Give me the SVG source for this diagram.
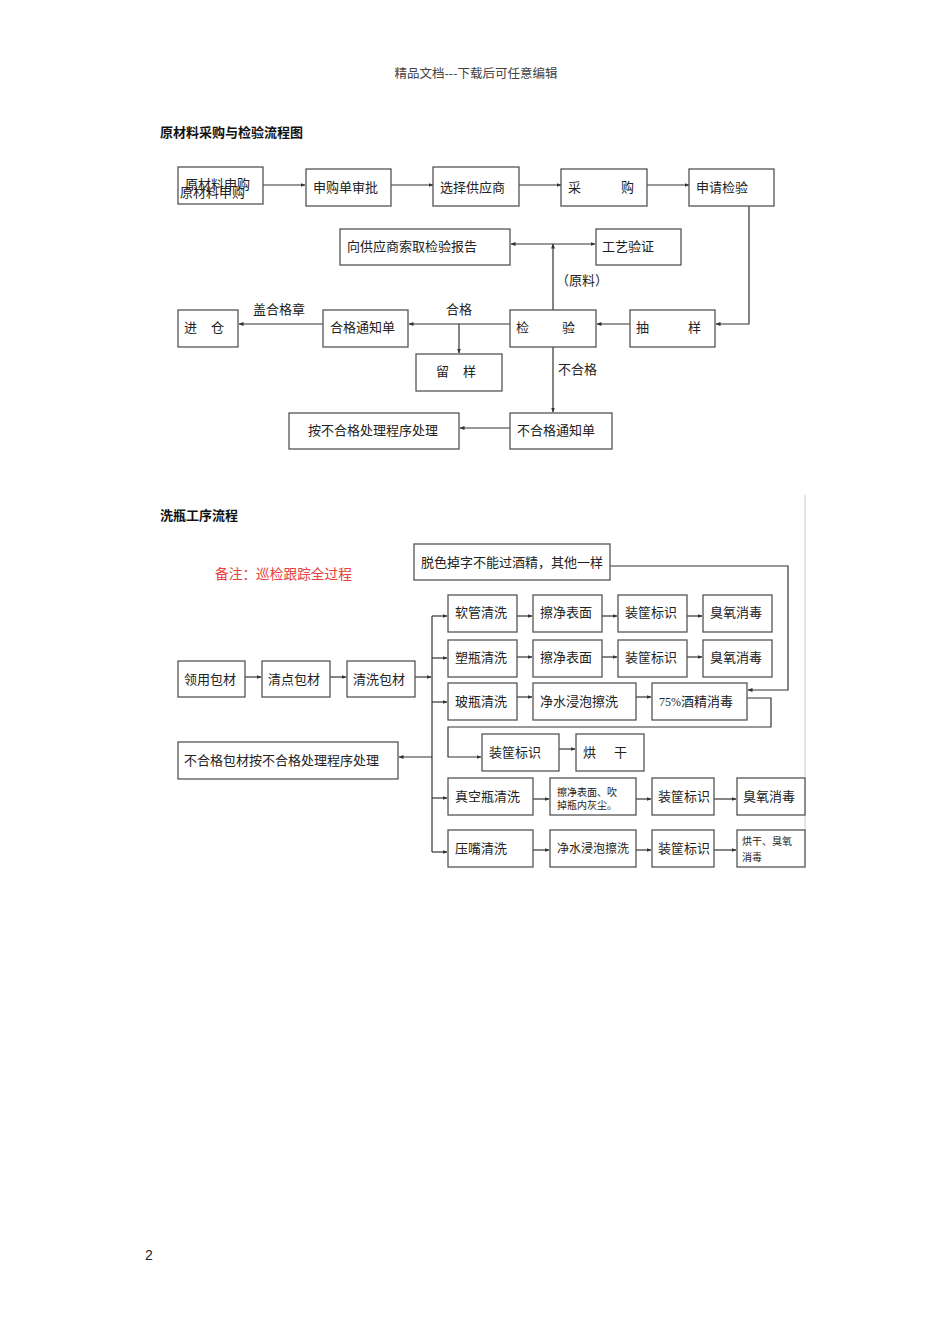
<svg xmlns="http://www.w3.org/2000/svg" width="950" height="1344" viewBox="0 0 950 1344">
<style>
text{font-family:"Noto Sans CJK SC","Liberation Sans",sans-serif;font-size:13px;fill:#222}
.box{fill:#fff;stroke:#555;stroke-width:1.3}
.ln{fill:none;stroke:#333;stroke-width:1.2}
.title{font-weight:bold;font-size:13px;fill:#111}
.small{font-size:10px}
</style>
<defs>
<marker id="ah" viewBox="0 0 10 10" refX="9" refY="5" markerWidth="5" markerHeight="5" orient="auto-start-reverse" markerUnits="userSpaceOnUse">
<path d="M0,1 L10,5 L0,9 Z" fill="#333"/>
</marker>
</defs>
<rect width="950" height="1344" fill="#fff"/>
<text x="476" y="78" text-anchor="middle" style="font-size:12.5px;fill:#444">精品文档---下载后可任意编辑</text>
<text class="title" x="160" y="137">原材料采购与检验流程图</text>

<g id="connectors1">
<line class="ln" x1="263" y1="185" x2="305" y2="185" marker-end="url(#ah)"/>
<line class="ln" x1="391" y1="185" x2="433" y2="185" marker-end="url(#ah)"/>
<line class="ln" x1="519" y1="185" x2="561" y2="185" marker-end="url(#ah)"/>
<line class="ln" x1="647" y1="185" x2="689" y2="185" marker-end="url(#ah)"/>
<polyline class="ln" points="749,206 749,324 716,324" marker-end="url(#ah)"/>
<line class="ln" x1="630" y1="324" x2="597" y2="324" marker-end="url(#ah)"/>
<line class="ln" x1="553" y1="310" x2="553" y2="244" marker-end="url(#ah)"/>
<line class="ln" x1="553" y1="244" x2="511" y2="244" marker-end="url(#ah)"/>
<line class="ln" x1="553" y1="244" x2="595" y2="244" marker-end="url(#ah)"/>
<line class="ln" x1="510" y1="324" x2="409" y2="324" marker-end="url(#ah)"/>
<line class="ln" x1="459" y1="324" x2="459" y2="353" marker-end="url(#ah)"/>
<line class="ln" x1="323" y1="324" x2="239" y2="324" marker-end="url(#ah)"/>
<line class="ln" x1="553" y1="347" x2="553" y2="412" marker-end="url(#ah)"/>
<line class="ln" x1="510" y1="428" x2="460" y2="428" marker-end="url(#ah)"/>
</g>
<g id="labels1">
<text x="556" y="285">（原料）</text>
<text x="446" y="314">合格</text>
<text x="253" y="314">盖合格章</text>
<text x="558" y="374">不合格</text>
</g>

<g id="n-yuancailiao"><rect class="box" x="178" y="167" width="85" height="37"/><text x="185" y="189">原材料申购</text><text x="180" y="197">原材料申购</text></g>
<g id="n-shenpi"><rect class="box" x="306" y="169" width="85" height="37"/><text x="313" y="192">申购单审批</text></g>
<g id="n-xuanze"><rect class="box" x="433" y="167" width="86" height="39"/><text x="440" y="192">选择供应商</text></g>
<g id="n-caigou"><rect class="box" x="561" y="169" width="86" height="37"/><text x="568" y="192">采</text><text x="621" y="192">购</text></g>
<g id="n-shenqing"><rect class="box" x="689" y="169" width="85" height="37"/><text x="696" y="192">申请检验</text></g>
<g id="n-baogao"><rect class="box" x="340" y="229" width="170" height="36"/><text x="347" y="251">向供应商索取检验报告</text></g>
<g id="n-gongyi"><rect class="box" x="596" y="229" width="85" height="36"/><text x="602" y="251">工艺验证</text></g>
<g id="n-chouyang"><rect class="box" x="630" y="310" width="85" height="37"/><text x="636" y="332">抽</text><text x="688" y="332">样</text></g>
<g id="n-jianyan"><rect class="box" x="510" y="310" width="86" height="37"/><text x="516" y="332">检</text><text x="562" y="332">验</text></g>
<g id="n-hege"><rect class="box" x="323" y="310" width="85" height="37"/><text x="330" y="332">合格通知单</text></g>
<g id="n-jincang"><rect class="box" x="178" y="310" width="60" height="37"/><text x="184" y="332">进</text><text x="211" y="332">仓</text></g>
<g id="n-liuyang"><rect class="box" x="416" y="354" width="86" height="37"/><text x="436" y="376">留</text><text x="463" y="376">样</text></g>
<g id="n-buhege"><rect class="box" x="510" y="413" width="102" height="36"/><text x="517" y="435">不合格通知单</text></g>
<g id="n-chuli"><rect class="box" x="289" y="413" width="170" height="36"/><text x="308" y="435">按不合格处理程序处理</text></g>

<text class="title" x="160" y="520">洗瓶工序流程</text>
<text x="215" y="579" style="fill:#e8403c;font-size:13.7px">备注：巡检跟踪全过程</text>
<line x1="805" y1="495" x2="805" y2="867" stroke="#ccc" stroke-width="1"/>

<g id="connectors2">
<polyline class="ln" points="610,566 788,566 788,690 748,690" marker-end="url(#ah)"/>
<line class="ln" x1="245" y1="677" x2="261" y2="677" marker-end="url(#ah)"/>
<line class="ln" x1="330" y1="677" x2="346" y2="677" marker-end="url(#ah)"/>
<line class="ln" x1="415" y1="677" x2="431" y2="677" marker-end="url(#ah)"/>
<line class="ln" x1="432" y1="616" x2="432" y2="852"/>
<line class="ln" x1="432" y1="616" x2="447" y2="616" marker-end="url(#ah)"/>
<line class="ln" x1="432" y1="658" x2="447" y2="658" marker-end="url(#ah)"/>
<line class="ln" x1="432" y1="702" x2="447" y2="702" marker-end="url(#ah)"/>
<line class="ln" x1="432" y1="798" x2="447" y2="798" marker-end="url(#ah)"/>
<line class="ln" x1="432" y1="852" x2="447" y2="852" marker-end="url(#ah)"/>
<line class="ln" x1="432" y1="757" x2="399" y2="757" marker-end="url(#ah)"/>
<line class="ln" x1="517" y1="616" x2="532" y2="616" marker-end="url(#ah)"/>
<line class="ln" x1="602" y1="616" x2="617" y2="616" marker-end="url(#ah)"/>
<line class="ln" x1="687" y1="616" x2="702" y2="616" marker-end="url(#ah)"/>
<line class="ln" x1="517" y1="657" x2="532" y2="657" marker-end="url(#ah)"/>
<line class="ln" x1="602" y1="657" x2="617" y2="657" marker-end="url(#ah)"/>
<line class="ln" x1="687" y1="657" x2="702" y2="657" marker-end="url(#ah)"/>
<line class="ln" x1="517" y1="697" x2="532" y2="697" marker-end="url(#ah)"/>
<line class="ln" x1="636" y1="697" x2="651" y2="697" marker-end="url(#ah)"/>
<polyline class="ln" points="747,698 771,698 771,727 448,727 448,757 481,757" marker-end="url(#ah)"/>
<line class="ln" x1="559" y1="749" x2="575" y2="749" marker-end="url(#ah)"/>
<line class="ln" x1="533" y1="799" x2="549" y2="799" marker-end="url(#ah)"/>
<line class="ln" x1="636" y1="799" x2="651" y2="799" marker-end="url(#ah)"/>
<line class="ln" x1="714" y1="799" x2="736" y2="799" marker-end="url(#ah)"/>
<line class="ln" x1="533" y1="850" x2="549" y2="850" marker-end="url(#ah)"/>
<line class="ln" x1="636" y1="850" x2="651" y2="850" marker-end="url(#ah)"/>
<line class="ln" x1="714" y1="850" x2="736" y2="850" marker-end="url(#ah)"/>
</g>

<g id="n-tuose"><rect class="box" x="414" y="544" width="196" height="36"/><text x="421" y="567">脱色掉字不能过酒精，其他一样</text></g>
<g id="n-lingyong"><rect class="box" x="178" y="661" width="67" height="36"/><text x="184" y="684">领用包材</text></g>
<g id="n-qingdian"><rect class="box" x="262" y="661" width="68" height="36"/><text x="268" y="684">清点包材</text></g>
<g id="n-qingxi"><rect class="box" x="347" y="661" width="68" height="36"/><text x="353" y="684">清洗包材</text></g>

<g id="n-r1a"><rect class="box" x="448" y="595" width="69" height="37"/><text x="455" y="617">软管清洗</text></g>
<g id="n-r1b"><rect class="box" x="533" y="595" width="69" height="37"/><text x="540" y="617">擦净表面</text></g>
<g id="n-r1c"><rect class="box" x="618" y="595" width="69" height="37"/><text x="625" y="617">装筐标识</text></g>
<g id="n-r1d"><rect class="box" x="703" y="595" width="69" height="37"/><text x="710" y="617">臭氧消毒</text></g>

<g id="n-r2a"><rect class="box" x="448" y="640" width="69" height="37"/><text x="455" y="662">塑瓶清洗</text></g>
<g id="n-r2b"><rect class="box" x="533" y="640" width="69" height="37"/><text x="540" y="662">擦净表面</text></g>
<g id="n-r2c"><rect class="box" x="618" y="640" width="69" height="37"/><text x="625" y="662">装筐标识</text></g>
<g id="n-r2d"><rect class="box" x="703" y="640" width="69" height="37"/><text x="710" y="662">臭氧消毒</text></g>

<g id="n-r3a"><rect class="box" x="448" y="683" width="69" height="37"/><text x="455" y="706">玻瓶清洗</text></g>
<g id="n-r3b"><rect class="box" x="533" y="683" width="103" height="37"/><text x="540" y="706">净水浸泡擦洗</text></g>
<g id="n-r3c"><rect class="box" x="652" y="683" width="95" height="37"/><text x="659" y="706"><tspan style="font-family:'Liberation Serif',serif;font-size:12px">75%</tspan>酒精消毒</text></g>
<g id="n-r4a"><rect class="box" x="482" y="734" width="77" height="37"/><text x="489" y="757">装筐标识</text></g>
<g id="n-r4b"><rect class="box" x="576" y="734" width="68" height="37"/><text x="583" y="757">烘</text><text x="614" y="757">干</text></g>

<g id="n-buhegebc"><rect class="box" x="178" y="742" width="220" height="37"/><text x="184" y="765">不合格包材按不合格处理程序处理</text></g>

<g id="n-r5a"><rect class="box" x="448" y="778" width="85" height="37"/><text x="455" y="801">真空瓶清洗</text></g>
<g id="n-r5b"><rect class="box" x="550" y="778" width="86" height="37"/><text class="small" x="557" y="796">擦净表面、吹</text><text class="small" x="557" y="809">掉瓶内灰尘。</text></g>
<g id="n-r5c"><rect class="box" x="652" y="778" width="62" height="37"/><text x="658" y="801">装筐标识</text></g>
<g id="n-r5d"><rect class="box" x="737" y="778" width="68" height="37"/><text x="743" y="801">臭氧消毒</text></g>

<g id="n-r6a"><rect class="box" x="448" y="830" width="85" height="37"/><text x="455" y="853">压嘴清洗</text></g>
<g id="n-r6b"><rect class="box" x="550" y="830" width="86" height="37"/><text x="557" y="853" style="font-size:12px">净水浸泡擦洗</text></g>
<g id="n-r6c"><rect class="box" x="652" y="830" width="62" height="37"/><text x="658" y="853">装筐标识</text></g>
<g id="n-r6d"><rect class="box" x="737" y="830" width="68" height="37"/><text class="small" x="742" y="845">烘干、臭氧</text><text class="small" x="742" y="861">消毒</text></g>

<text x="145" y="1260" style="font-family:'Liberation Sans',sans-serif;font-size:14px">2</text>
</svg>
